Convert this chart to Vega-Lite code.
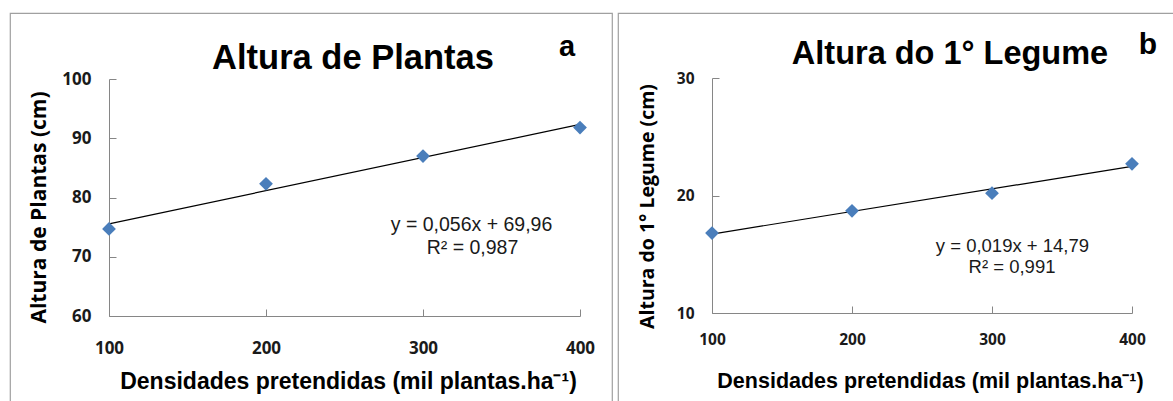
{
  "$schema": "https://vega.github.io/schema/vega-lite/v6.json",
  "autosize": {"type": "pad"},
  "padding": {"left": 9, "top": 12, "right": 0, "bottom": 0},
  "background": "white",
  "spacing": 6,
  "bounds": "flush",
  "config": {
    "view": {"stroke": "#a0a0a0", "strokeWidth": 1.2},
    "axis": {
      "grid": false,
      "labelFlush": false,
      "domainColor": "#868686",
      "tickColor": "#868686",
      "domainWidth": 1,
      "tickWidth": 1,
      "tickSize": -7,
      "labelFont": "Open Sans",
      "labelFontWeight": "bold",
      "labelColor": "#1a1a1a",
      "titleColor": "black",
      "titleFontWeight": "bold"
    }
  },
  "datasets": {
    "a": [
      {"dens": 100, "alt": 74.7},
      {"dens": 200, "alt": 82.3},
      {"dens": 300, "alt": 87.0},
      {"dens": 400, "alt": 91.8}
    ],
    "b": [
      {"dens": 100, "alt": 16.8},
      {"dens": 200, "alt": 18.7},
      {"dens": 300, "alt": 20.2},
      {"dens": 400, "alt": 22.7}
    ]
  },
  "hconcat": [
    {
      "width": 602,
      "height": 395,
      "title": {"text": "Altura de Plantas", "font": "Liberation Sans", "fontSize": 34.5, "fontWeight": "bold", "color": "black", "anchor": "middle", "frame": "group", "dx": 42, "offset": -63},
      "layer": [
        {
          "data": {"name": "a"},
          "transform": [{"regression": "alt", "on": "dens"}],
          "mark": {"type": "line", "color": "black", "strokeWidth": 1.2},
          "encoding": {
            "x": {"field": "dens", "type": "quantitative",
              "scale": {"domain": [100, 400], "range": [99, 570], "nice": false, "zero": false},
              "axis": {"values": [100, 200, 300, 400], "offset": -92, "labelFontSize": 17, "labelPadding": 31.6,
                "title": "Densidades pretendidas (mil plantas.ha⁻¹)", "titleFont": "Liberation Sans", "titleFontSize": 23,
                "titleBaseline": "middle", "titleX": 338, "titleY": 65}},
            "y": {"field": "alt", "type": "quantitative",
              "scale": {"domain": [60, 100], "range": [303, 66], "nice": false, "zero": false},
              "axis": {"values": [60, 70, 80, 90, 100], "offset": -99, "labelFontSize": 17, "labelPadding": 25,
                "title": "Altura de Plantas (cm)", "titleFont": "Open Sans", "titleFontSize": 21,
                "titleBaseline": "middle", "titleX": -70, "titleY": 194}}
          }
        },
        {
          "data": {"name": "a"},
          "mark": {"type": "point", "shape": "diamond", "filled": true, "size": 190, "color": "#4A7EBB", "opacity": 1},
          "encoding": {
            "x": {"field": "dens", "type": "quantitative"},
            "y": {"field": "alt", "type": "quantitative"}
          }
        },
        {
          "data": {"values": [{"label": "y = 0,056x  + 69,96"}]},
          "mark": {"type": "text", "font": "Liberation Sans", "fontSize": 19.5, "color": "#1a1a1a", "align": "center", "baseline": "middle"},
          "encoding": {"x": {"datum": 330.9}, "y": {"datum": 75.36}, "text": {"field": "label"}}
        },
        {
          "data": {"values": [{"label": "R² = 0,987"}]},
          "mark": {"type": "text", "font": "Liberation Sans", "fontSize": 19.5, "color": "#1a1a1a", "align": "center", "baseline": "middle"},
          "encoding": {"x": {"datum": 331.5}, "y": {"datum": 71.48}, "text": {"field": "label"}}
        },
        {
          "data": {"values": [{"label": "a"}]},
          "mark": {"type": "text", "font": "Liberation Sans", "fontSize": 29, "fontWeight": "bold", "color": "black", "align": "center", "baseline": "middle"},
          "encoding": {"x": {"datum": 391.7}, "y": {"datum": 105.4}, "text": {"field": "label"}}
        }
      ]
    },
    {
      "width": 560,
      "height": 395,
      "title": {"text": "Altura do 1° Legume", "font": "Liberation Sans", "fontSize": 32.5, "fontWeight": "bold", "color": "black", "anchor": "middle", "frame": "group", "dx": 52, "offset": -57},
      "layer": [
        {
          "data": {"name": "b"},
          "transform": [{"regression": "alt", "on": "dens"}],
          "mark": {"type": "line", "color": "black", "strokeWidth": 1.2},
          "encoding": {
            "x": {"field": "dens", "type": "quantitative",
              "scale": {"domain": [100, 400], "range": [94, 514], "nice": false, "zero": false},
              "axis": {"values": [100, 200, 300, 400], "offset": -95, "labelFontSize": 15.5, "labelPadding": 26.5,
                "title": "Densidades pretendidas (mil plantas.ha⁻¹)", "titleFont": "Liberation Sans", "titleFontSize": 21.5,
                "titleBaseline": "middle", "titleX": 312, "titleY": 68}},
            "y": {"field": "alt", "type": "quantitative",
              "scale": {"domain": [10, 30], "range": [300, 65], "nice": false, "zero": false},
              "axis": {"values": [10, 20, 30], "offset": -94, "labelFontSize": 15.5, "labelPadding": 25,
                "title": "Altura do 1° Legume (cm)", "titleFont": "Open Sans", "titleFontSize": 19.5,
                "titleBaseline": "middle", "titleX": -65, "titleY": 193}}
          }
        },
        {
          "data": {"name": "b"},
          "mark": {"type": "point", "shape": "diamond", "filled": true, "size": 190, "color": "#4A7EBB", "opacity": 1},
          "encoding": {
            "x": {"field": "dens", "type": "quantitative"},
            "y": {"field": "alt", "type": "quantitative"}
          }
        },
        {
          "data": {"values": [{"label": "y = 0,019x  + 14,79"}]},
          "mark": {"type": "text", "font": "Liberation Sans", "fontSize": 18.5, "color": "#1a1a1a", "align": "center", "baseline": "middle"},
          "encoding": {"x": {"datum": 314.6}, "y": {"datum": 15.74}, "text": {"field": "label"}}
        },
        {
          "data": {"values": [{"label": "R² = 0,991"}]},
          "mark": {"type": "text", "font": "Liberation Sans", "fontSize": 18.5, "color": "#1a1a1a", "align": "center", "baseline": "middle"},
          "encoding": {"x": {"datum": 314.3}, "y": {"datum": 13.91}, "text": {"field": "label"}}
        },
        {
          "data": {"values": [{"label": "b"}]},
          "mark": {"type": "text", "font": "Liberation Sans", "fontSize": 30, "fontWeight": "bold", "color": "black", "align": "center", "baseline": "middle"},
          "encoding": {"x": {"datum": 411.4}, "y": {"datum": 32.8}, "text": {"field": "label"}}
        }
      ]
    }
  ]
}
